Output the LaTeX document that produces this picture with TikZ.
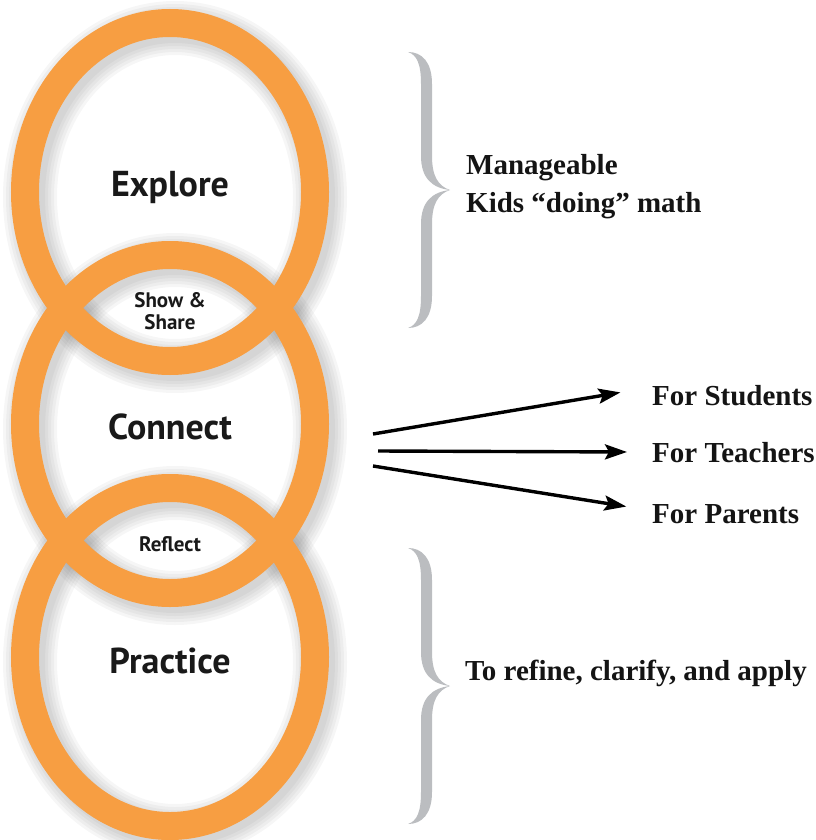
\documentclass[tikz,border=0pt]{standalone}
\usepackage{fontspec}
\setmainfont{Liberation Serif}
\newfontfamily\ringfont{PT Sans}
\usetikzlibrary{arrows.meta}

\definecolor{ringorange}{RGB}{247,158,66}
\definecolor{bracegray}{RGB}{187,189,192}

\tikzset{
  ring/.style={draw=ringorange, line width=28pt},
  ringshadow/.style={draw=black, opacity=0.035, line width=#1},
  bigword/.style={font=\ringfont\bfseries\fontsize{36}{36}\selectfont, text=black!90},
  smallword/.style={font=\ringfont\bfseries\fontsize{21}{22}\selectfont, text=black!90, align=center},
  sidetext/.style={font=\bfseries\fontsize{29}{38}\selectfont, text=black!92, inner sep=0pt, align=left},
  fanarrow/.style={line width=3.4pt, -{Stealth[length=22pt,width=15pt,inset=4pt]}},
  sidebrace/.pic={
    \fill[bracegray] (0,0) .. controls (14,0) and (24,10) .. (24,32) -- (24,104)
      .. controls (24,124) and (30,134) .. (42,138)
      .. controls (30,142) and (24,152) .. (24,172) -- (24,244)
      .. controls (24,266) and (14,276) .. (0,276)
      .. controls (9,273) and (13,264) .. (13,244) -- (13,172)
      .. controls (13,150) and (24,140) .. (42,138)
      .. controls (24,136) and (13,126) .. (13,104) -- (13,32)
      .. controls (13,12) and (9,3) .. (0,0) -- cycle;
  }
}

\begin{document}
\begin{tikzpicture}[x=1pt, y=-1pt]
\useasboundingbox (0,0) rectangle (815,840);

% ring size (centre line of the orange band)
\def\ringrx{145pt}
\def\ringry{169pt}

% soft shadows first, so the rings sit on top
\foreach \cy in {192,424,657}
  \foreach \w in {30,36,...,54}
    \draw[ringshadow=\w pt] (175,\cy+5) ellipse [x radius=\ringrx, y radius=\ringry];

% the three rings
\foreach \cy in {192,424,657}
  \draw[ring] (170,\cy) ellipse [x radius=\ringrx, y radius=\ringry];

% words in the rings and in the overlaps
\node[bigword] (explore) at (170,187) {Explore};
\node[bigword] (connect) at (170,427) {Connect};
\node[bigword] (practice) at (170,661) {Practice};
\node[smallword] (showshare) at (170,311) {Show \&\\Share};
\node[smallword] (reflect) at (170,544) {Reflect};

% braces on the right
\pic (topbrace) at (408,52) {sidebrace};
\pic (lowbrace) at (408,548) {sidebrace};

\node[sidetext, anchor=west] (manage) at (466,187) {Manageable\\Kids “doing” math};
\node[sidetext, anchor=base west] (refine) at (465,680) {To refine, clarify, and apply};

% who the connections are for
\node[sidetext, anchor=base west] (students) at (652,405) {For Students};
\node[sidetext, anchor=base west] (teachers) at (652,462) {For Teachers};
\node[sidetext, anchor=base west] (parents) at (652,523) {For Parents};

\coordinate (fanA) at (373,434);
\coordinate (fanB) at (378,451);
\coordinate (fanC) at (373,466);
\draw[fanarrow, shorten >=32pt] (fanA) -- ([yshift=8pt]students.west);
\draw[fanarrow, shorten >=25pt] (fanB) -- (teachers.west);
\draw[fanarrow, shorten >=26pt] (fanC) -- ([yshift=3pt]parents.west);
\end{tikzpicture}
\end{document}
